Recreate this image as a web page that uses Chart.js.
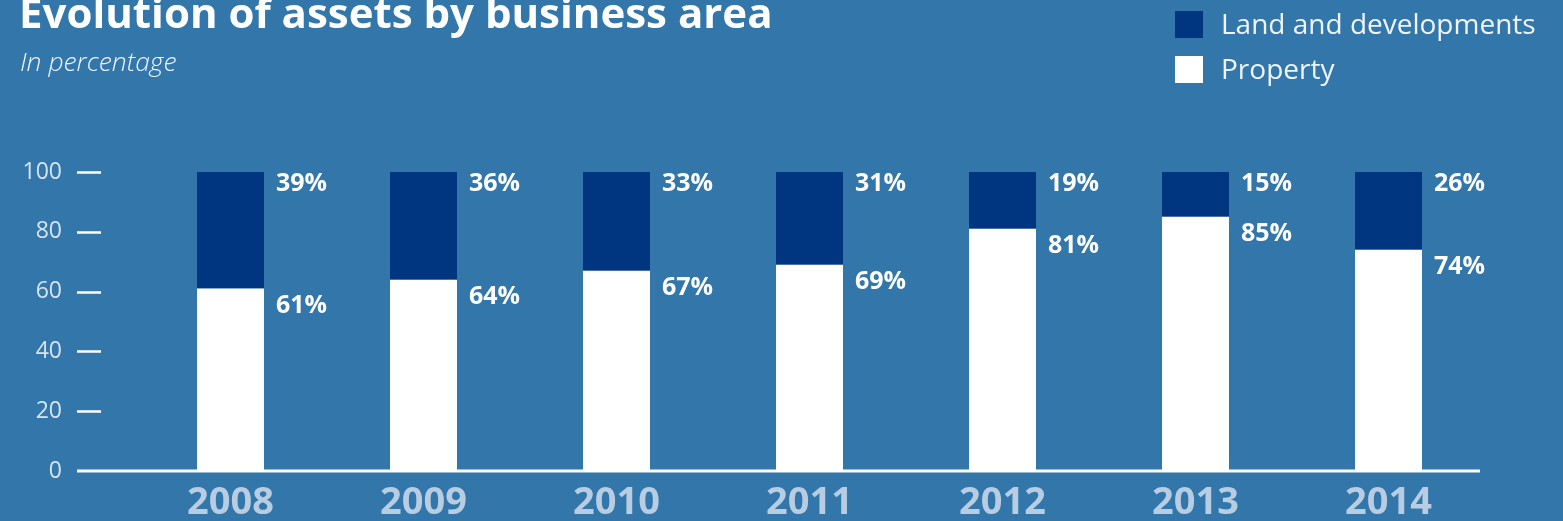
<!DOCTYPE html>
<html>
<head>
    <title>Evolution of assets by business area</title>
    <script src="https://cdn.jsdelivr.net/npm/chart.js"></script>
    <style>
        body { margin: 0; background: #3276aa; font-family: "Open Sans", sans-serif; }
        #wrap { position: relative; width: 1563px; height: 521px; overflow: hidden; background: #3276aa; }
        #title { position: absolute; left: 19px; top: -17px; font-size: 42px; font-weight: 700; color: #fff; white-space: nowrap; }
        #subtitle { position: absolute; left: 20px; top: 43px; font-size: 26.5px; font-style: italic; font-weight: 300; color: #eef4fa; white-space: nowrap; }
        .leg { position: absolute; left: 1175px; font-size: 28px; color: #eef4fa; white-space: nowrap; }
        .leg span { position: absolute; left: 0; width: 28px; height: 27px; }
        .leg b { position: absolute; left: 46px; top: -7px; font-weight: 400; }
        canvas { position: absolute; left: 0; top: 0; }
    </style>
</head>
<body>
    <div id="wrap">
        <canvas id="myChart" width="1563" height="521"></canvas>
        <div id="title">Evolution of assets by business area</div>
        <div id="subtitle">In percentage</div>
        <div class="leg" style="top:11px"><span style="background:#003580"></span><b>Land and developments</b></div>
        <div class="leg" style="top:56px"><span style="background:#ffffff"></span><b>Property</b></div>
    </div>
    <script>
        var years = ['2008', '2009', '2010', '2011', '2012', '2013', '2014'];
        var property = [61, 64, 67, 69, 81, 85, 74];
        var land = [39, 36, 33, 31, 19, 15, 26];
        var yTicks = [0, 20, 40, 60, 80, 100];

        // short dashes beside the y labels, the baseline and the % labels
        var decorations = {
            id: 'decorations',
            afterDatasetsDraw: function(chart) {
                var ctx = chart.ctx;
                var y = chart.scales.y;
                var area = chart.chartArea;
                ctx.save();
                ctx.strokeStyle = '#ffffff';
                ctx.lineWidth = 2.5;
                yTicks.forEach(function(v) {
                    if (v === 0) return;
                    var py = Math.round(y.getPixelForValue(v)) + 0.5;
                    ctx.beginPath();
                    ctx.moveTo(77, py);
                    ctx.lineTo(101, py);
                    ctx.stroke();
                });
                var base = Math.round(y.getPixelForValue(0));
                ctx.lineWidth = 3;
                ctx.beginPath();
                ctx.moveTo(77, base);
                ctx.lineTo(area.right - 5, base);
                ctx.stroke();

                ctx.fillStyle = '#ffffff';
                ctx.font = 'bold 25px "Open Sans"';
                ctx.textAlign = 'left';
                ctx.textBaseline = 'middle';
                chart.data.datasets.forEach(function(ds, di) {
                    chart.getDatasetMeta(di).data.forEach(function(bar, i) {
                        var off = di === 0 ? 17 : 12;
                        ctx.fillText(ds.data[i] + '%', bar.x + bar.width / 2 + 12, bar.y + off);
                    });
                });
                ctx.restore();
            }
        };

        var ctx = document.getElementById('myChart').getContext('2d');
        var myChart = new Chart(ctx, {
            type: 'bar',
            data: {
                labels: years,
                datasets: [
                    {
                        label: 'Property',
                        data: property,
                        backgroundColor: '#ffffff',
                        barPercentage: 0.347,
                        categoryPercentage: 1
                    },
                    {
                        label: 'Land and developments',
                        data: land,
                        backgroundColor: '#003580',
                        barPercentage: 0.347,
                        categoryPercentage: 1
                    }
                ]
            },
            options: {
                responsive: false,
                animation: false,
                layout: { padding: { top: 172, right: 78, left: 0, bottom: 0 } },
                plugins: {
                    legend: { display: false },
                    tooltip: { enabled: false }
                },
                scales: {
                    x: {
                        stacked: true,
                        grid: { display: false },
                        border: { display: false },
                        ticks: {
                            color: '#b8cde2',
                            font: { family: 'Open Sans', size: 38, weight: 'bold' },
                            padding: 1
                        },
                        afterFit: function(scale) { scale.height = 50; }
                    },
                    y: {
                        stacked: true,
                        min: 0,
                        max: 100,
                        grid: { display: false, drawTicks: false },
                        border: { display: false },
                        ticks: {
                            stepSize: 20,
                            color: '#d6e4f0',
                            font: { family: 'Open Sans', size: 23 },
                            padding: 72
                        },
                        afterFit: function(scale) {
                            scale.width = 134;
                            scale.paddingTop = 0;
                            scale.paddingBottom = 0;
                        }
                    }
                }
            },
            plugins: [decorations]
        });
    </script>
</body>
</html>
